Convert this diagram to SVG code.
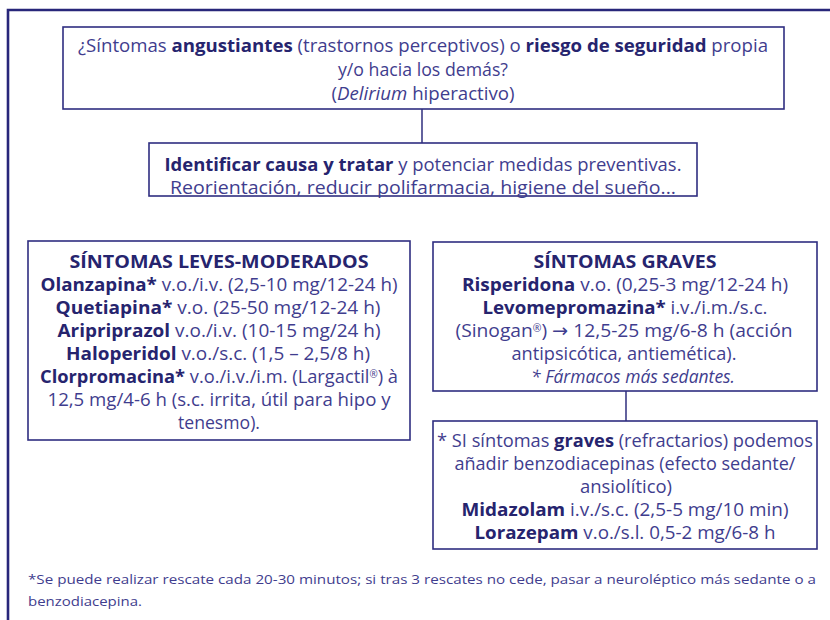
<svg xmlns="http://www.w3.org/2000/svg" width="830" height="620" viewBox="0 0 830 620">
<style>
.bx{fill:#fff;stroke:#2f2d80;stroke-width:1.6}
.ln{stroke:#3d3b86;stroke-width:1.6;fill:none}
text{font-family:"Open Sans","Noto Sans","Liberation Sans",sans-serif;fill:#3f3d8e;font-size:17.5px}
.m{font-size:18.5px}
.c{text-anchor:middle}
.b{font-weight:bold;fill:#26246e}
.i{font-style:italic}
.f{font-size:13.5px}
.ar{font-family:"DejaVu Sans",sans-serif}
.r{font-size:10px}
</style>
<rect width="830" height="620" fill="#fff"/>
<path d="M8 620 V10 H830" fill="none" stroke="#28267a" stroke-width="2.6"/>
<g id="connectors">
<line class="ln" x1="422" y1="108" x2="422" y2="143"/>
<line class="ln" x1="626" y1="391" x2="626" y2="421"/>
</g>
<g id="n1">
<rect class="bx" x="63" y="27" width="721" height="82"/>
<text class="c" x="423" y="52" textLength="690" lengthAdjust="spacingAndGlyphs">¿Síntomas <tspan class="b">angustiantes</tspan> (trastornos perceptivos) o <tspan class="b">riesgo de seguridad</tspan> propia</text>
<text class="c" x="423" y="76" textLength="170" lengthAdjust="spacingAndGlyphs">y/o hacia los demás?</text>
<text class="c" x="423" y="100" textLength="183" lengthAdjust="spacingAndGlyphs">(<tspan class="i">Delirium</tspan> hiperactivo)</text>
</g>
<g id="n2">
<rect class="bx" x="149" y="143" width="548" height="53"/>
<text class="c" x="423" y="171" textLength="517" lengthAdjust="spacingAndGlyphs"><tspan class="b">Identificar causa y tratar</tspan> y potenciar medidas preventivas.</text>
<text class="c" x="423" y="194" textLength="506" lengthAdjust="spacingAndGlyphs">Reorientación, reducir polifarmacia, higiene del sueño...</text>
</g>
<g id="n3">
<rect class="bx" x="28" y="241" width="382" height="199"/>
<text class="c b m" x="219" y="268" textLength="299" lengthAdjust="spacingAndGlyphs">SÍNTOMAS LEVES-MODERADOS</text>
<text class="c m" x="219" y="291" textLength="357" lengthAdjust="spacingAndGlyphs"><tspan class="b">Olanzapina*</tspan> v.o./i.v. (2,5-10 mg/12-24 h)</text>
<text class="c m" x="218" y="314" textLength="325" lengthAdjust="spacingAndGlyphs"><tspan class="b">Quetiapina*</tspan> v.o. (25-50 mg/12-24 h)</text>
<text class="c m" x="219" y="337" textLength="323" lengthAdjust="spacingAndGlyphs"><tspan class="b">Aripriprazol</tspan> v.o./i.v. (10-15 mg/24 h)</text>
<text class="c m" x="218" y="360" textLength="304" lengthAdjust="spacingAndGlyphs"><tspan class="b">Haloperidol</tspan> v.o./s.c. (1,5 – 2,5/8 h)</text>
<text class="c m" x="219" y="383" textLength="358" lengthAdjust="spacingAndGlyphs"><tspan class="b">Clorpromacina*</tspan> v.o./i.v./i.m. (Largactil<tspan class="r" dy="-5">®</tspan><tspan dy="5">) à</tspan></text>
<text class="c m" x="219" y="406" textLength="343" lengthAdjust="spacingAndGlyphs">12,5 mg/4-6 h (s.c. irrita, útil para hipo y</text>
<text class="c m" x="219" y="429" textLength="82" lengthAdjust="spacingAndGlyphs">tenesmo).</text>
</g>
<g id="n4">
<rect class="bx" x="433" y="242" width="384" height="149"/>
<text class="c b m" x="625" y="268" textLength="183" lengthAdjust="spacingAndGlyphs">SÍNTOMAS GRAVES</text>
<text class="c m" x="625" y="291" textLength="326" lengthAdjust="spacingAndGlyphs"><tspan class="b">Risperidona</tspan> v.o. (0,25-3 mg/12-24 h)</text>
<text class="c m" x="625" y="314" textLength="285" lengthAdjust="spacingAndGlyphs"><tspan class="b">Levomepromazina*</tspan> i.v./i.m./s.c.</text>
<text class="c m" x="624" y="337" textLength="337" lengthAdjust="spacingAndGlyphs">(Sinogan<tspan class="r" dy="-5">®</tspan><tspan dy="5">) </tspan><tspan class="ar">→</tspan> 12,5-25 mg/6-8 h (acción</text>
<text class="c m" x="624" y="360" textLength="225" lengthAdjust="spacingAndGlyphs">antipsicótica, antiemética).</text>
<text class="c i m" x="633" y="383" textLength="204" lengthAdjust="spacingAndGlyphs">* Fármacos más sedantes.</text>
</g>
<g id="n5">
<rect class="bx" x="433" y="421" width="384" height="128"/>
<text class="c m" x="625" y="447" textLength="376" lengthAdjust="spacingAndGlyphs">* SI síntomas <tspan class="b">graves</tspan> (refractarios) podemos</text>
<text class="c m" x="625" y="470" textLength="341" lengthAdjust="spacingAndGlyphs">añadir benzodiacepinas (efecto sedante/</text>
<text class="c m" x="626" y="493" textLength="92" lengthAdjust="spacingAndGlyphs">ansiolítico)</text>
<text class="c m" x="625" y="516" textLength="327" lengthAdjust="spacingAndGlyphs"><tspan class="b">Midazolam</tspan> i.v./s.c. (2,5-5 mg/10 min)</text>
<text class="c m" x="625" y="539" textLength="301" lengthAdjust="spacingAndGlyphs"><tspan class="b">Lorazepam</tspan> v.o./s.l. 0,5-2 mg/6-8 h</text>
</g>
<g id="footer">
<text class="f" x="28" y="584" textLength="788" lengthAdjust="spacingAndGlyphs">*Se puede realizar rescate cada 20-30 minutos; si tras 3 rescates no cede, pasar a neuroléptico más sedante o a</text>
<text class="f" x="28" y="606" textLength="114" lengthAdjust="spacingAndGlyphs">benzodiacepina.</text>
</g>
</svg>
